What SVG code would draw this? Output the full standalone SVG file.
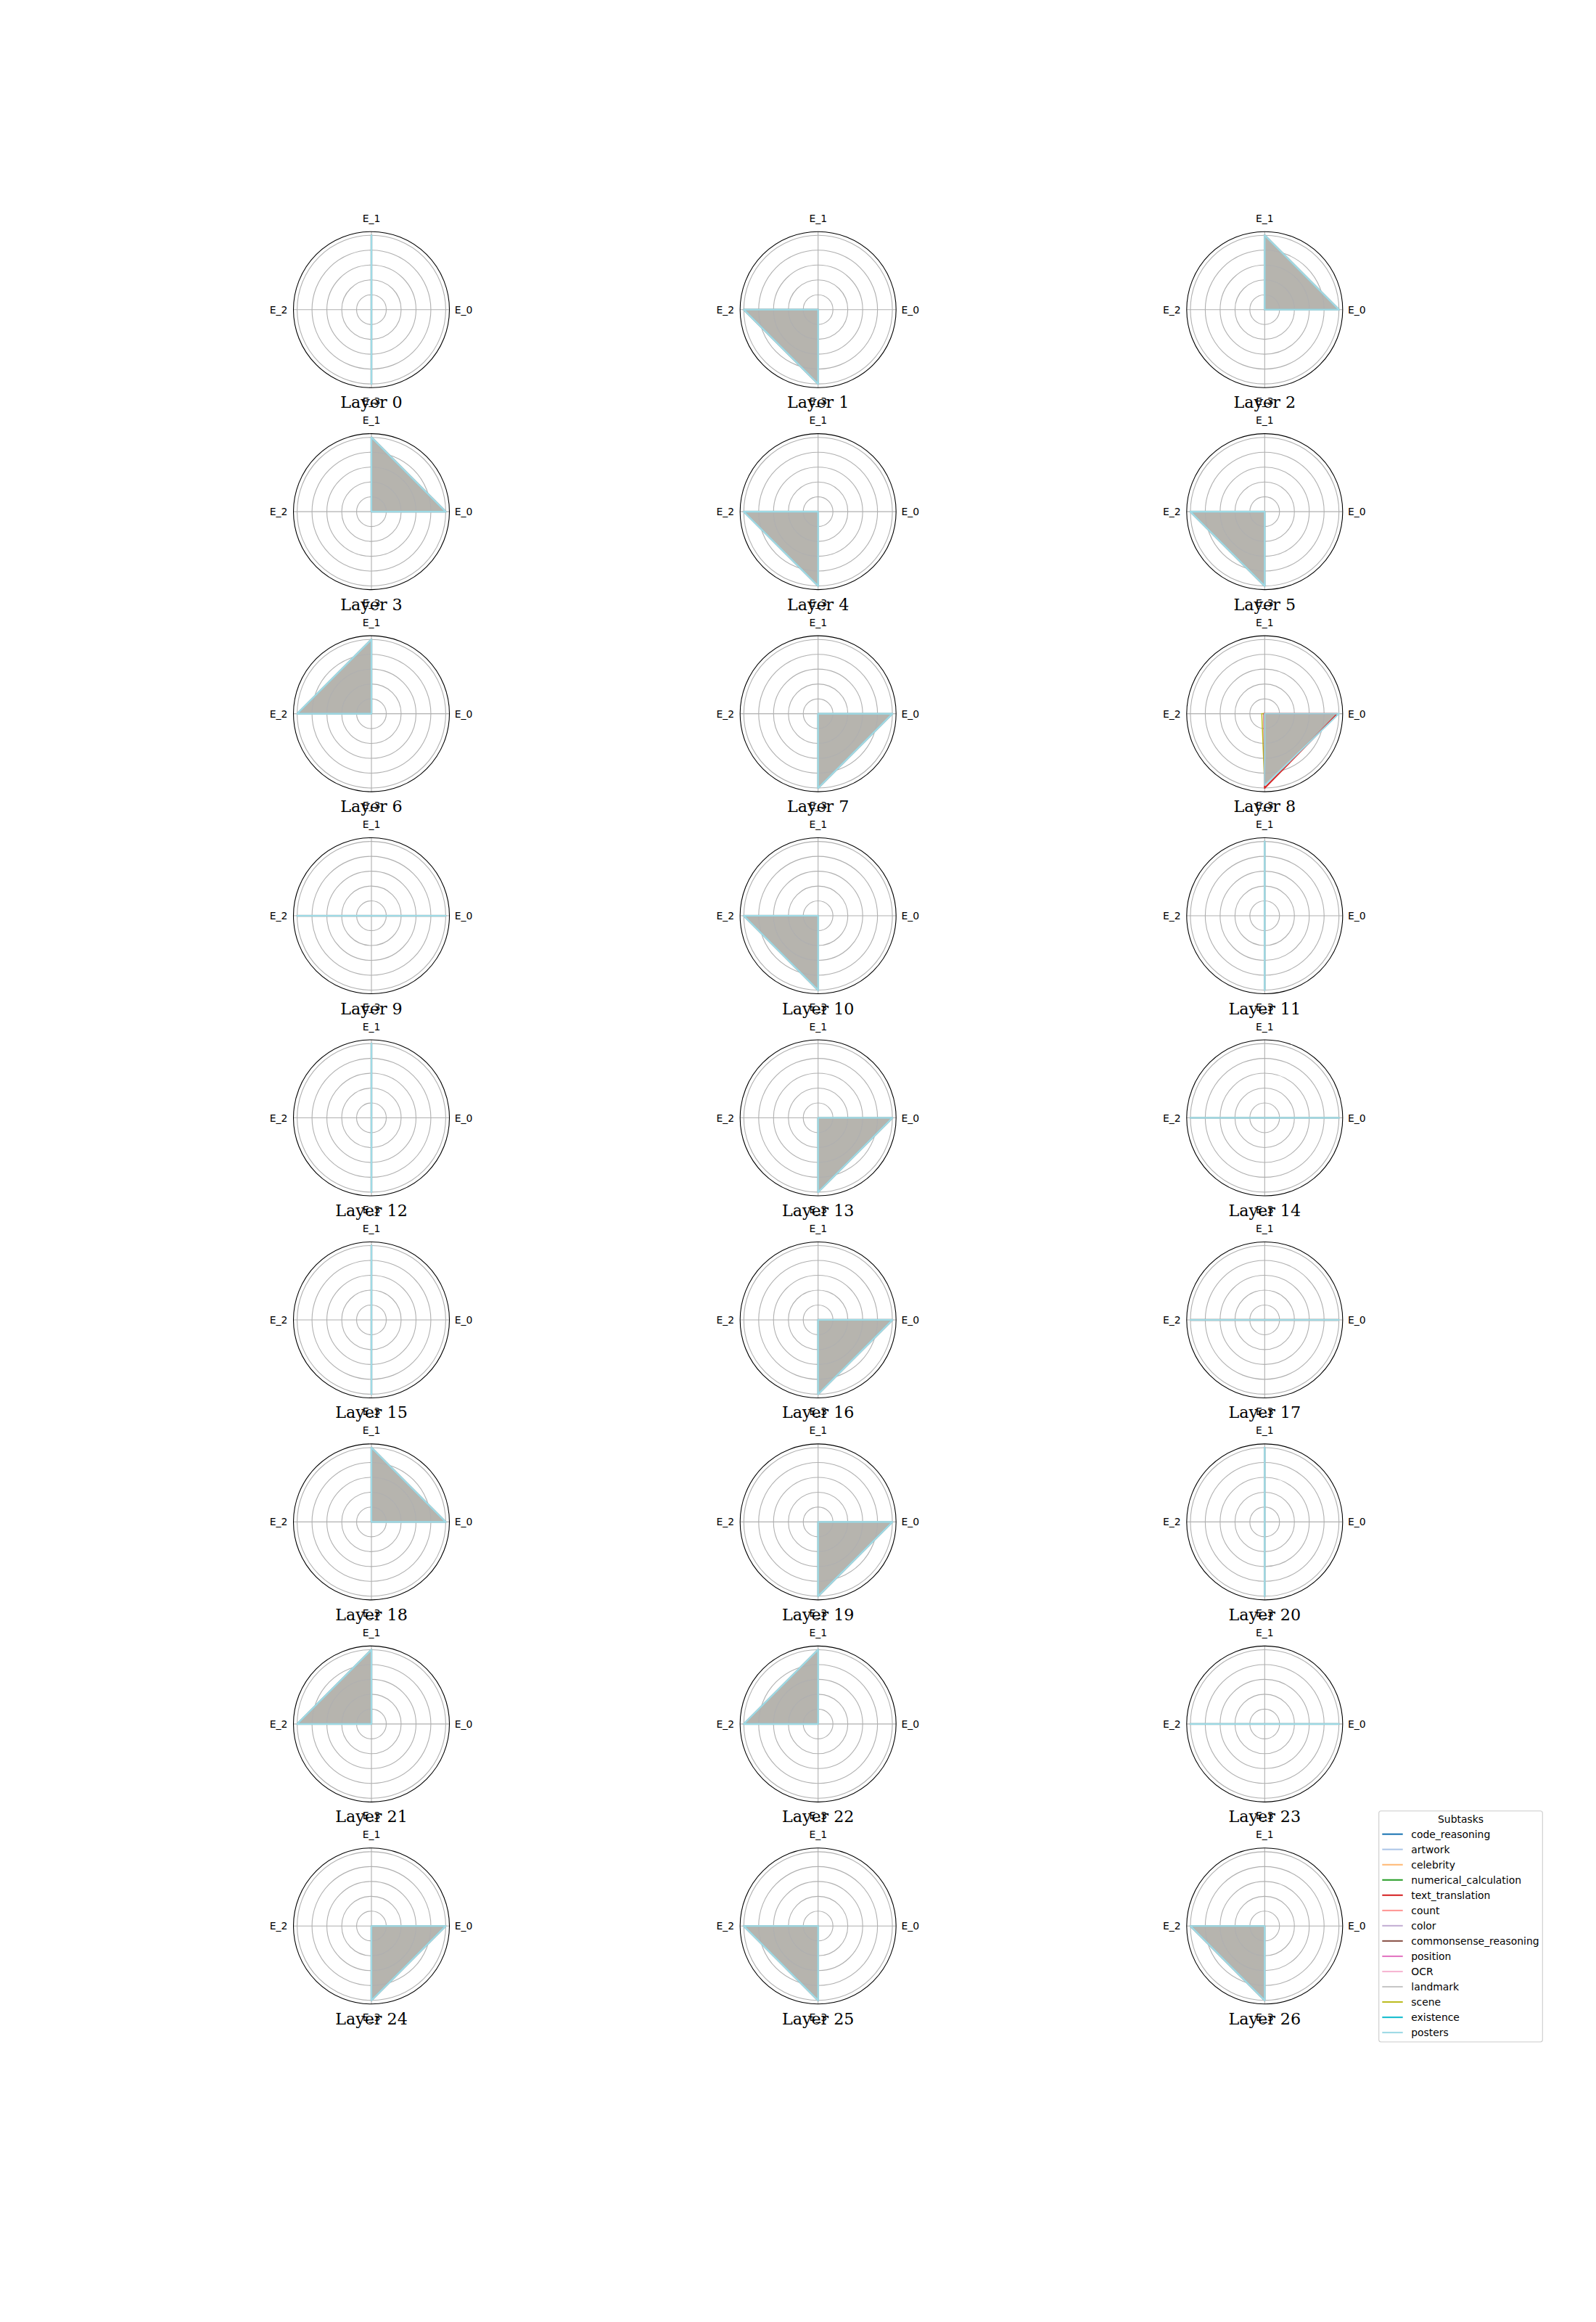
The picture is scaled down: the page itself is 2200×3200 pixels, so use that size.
<svg xmlns="http://www.w3.org/2000/svg" xmlns:xlink="http://www.w3.org/1999/xlink" width="2200" height="3200" viewBox="0 0 2200 3200">
<style>
.fill{fill:#b6b4ae;stroke:none}
.base{fill:none;stroke:#a3b6b9;stroke-width:2.7;stroke-linejoin:round}
.ln{fill:none;stroke:#9edae5;stroke-width:2.1;stroke-linejoin:round}
.grid{fill:none;stroke:#b0b0b0;stroke-width:1.1}
.spine{fill:none;stroke:#000;stroke-width:1.1}
.tk{font-family:"DejaVu Sans",sans-serif;font-size:13.9px;fill:#000;text-anchor:middle}
.ttl{font-family:"DejaVu Serif",serif;font-size:22.2px;fill:#000;text-anchor:middle}
.lg{font-family:"DejaVu Sans",sans-serif;font-size:13.9px;fill:#000}
.lgl{stroke-width:2.1;fill:none}
</style>
<defs>
<g id="grid">
<circle class="grid" r="20.48"/><circle class="grid" r="40.96"/><circle class="grid" r="61.44"/><circle class="grid" r="81.92"/><circle class="grid" r="102.4"/>
<path class="grid" d="M-107.5,0H107.5M0,-107.5V107.5"/>
</g>
<circle id="spine" class="spine" r="107.5"/>
</defs>
<rect width="2200" height="3200" fill="#fff"/>

<g id="layer-0" transform="translate(512,426.7)">
<use xlink:href="#grid"/><polygon class="base" points="0,0 0,-102.4 0,0 0,102.4"/><polygon class="ln" points="0,0 0,-102.4 0,0 0,102.4"/><use xlink:href="#spine"/>
<text class="tk" x="127" y="5">E_0</text><text class="tk" x="0" y="-121">E_1</text><text class="tk" x="-128" y="5">E_2</text><text class="tk" x="0" y="131">E_3</text><text class="ttl" x="0" y="135.5">Layer 0</text>
</g>
<g id="layer-1" transform="translate(1127.7,426.7)">
<polygon class="fill" points="0,0 0,0 -102.4,0 0,102.4"/><use xlink:href="#grid"/><polygon class="base" points="0,0 0,0 -102.4,0 0,102.4"/><polygon class="ln" points="0,0 0,0 -102.4,0 0,102.4"/><use xlink:href="#spine"/>
<text class="tk" x="127" y="5">E_0</text><text class="tk" x="0" y="-121">E_1</text><text class="tk" x="-128" y="5">E_2</text><text class="tk" x="0" y="131">E_3</text><text class="ttl" x="0" y="135.5">Layer 1</text>
</g>
<g id="layer-2" transform="translate(1743.3,426.7)">
<polygon class="fill" points="102.4,0 0,-102.4 0,0 0,0"/><use xlink:href="#grid"/><polygon class="base" points="102.4,0 0,-102.4 0,0 0,0"/><polygon class="ln" points="102.4,0 0,-102.4 0,0 0,0"/><use xlink:href="#spine"/>
<text class="tk" x="127" y="5">E_0</text><text class="tk" x="0" y="-121">E_1</text><text class="tk" x="-128" y="5">E_2</text><text class="tk" x="0" y="131">E_3</text><text class="ttl" x="0" y="135.5">Layer 2</text>
</g>

<g id="layer-3" transform="translate(512,705.15)">
<polygon class="fill" points="102.4,0 0,-102.4 0,0 0,0"/><use xlink:href="#grid"/><polygon class="base" points="102.4,0 0,-102.4 0,0 0,0"/><polygon class="ln" points="102.4,0 0,-102.4 0,0 0,0"/><use xlink:href="#spine"/>
<text class="tk" x="127" y="5">E_0</text><text class="tk" x="0" y="-121">E_1</text><text class="tk" x="-128" y="5">E_2</text><text class="tk" x="0" y="131">E_3</text><text class="ttl" x="0" y="135.5">Layer 3</text>
</g>
<g id="layer-4" transform="translate(1127.7,705.15)">
<polygon class="fill" points="0,0 0,0 -102.4,0 0,102.4"/><use xlink:href="#grid"/><polygon class="base" points="0,0 0,0 -102.4,0 0,102.4"/><polygon class="ln" points="0,0 0,0 -102.4,0 0,102.4"/><use xlink:href="#spine"/>
<text class="tk" x="127" y="5">E_0</text><text class="tk" x="0" y="-121">E_1</text><text class="tk" x="-128" y="5">E_2</text><text class="tk" x="0" y="131">E_3</text><text class="ttl" x="0" y="135.5">Layer 4</text>
</g>
<g id="layer-5" transform="translate(1743.3,705.15)">
<polygon class="fill" points="0,0 0,0 -102.4,0 0,102.4"/><use xlink:href="#grid"/><polygon class="base" points="0,0 0,0 -102.4,0 0,102.4"/><polygon class="ln" points="0,0 0,0 -102.4,0 0,102.4"/><use xlink:href="#spine"/>
<text class="tk" x="127" y="5">E_0</text><text class="tk" x="0" y="-121">E_1</text><text class="tk" x="-128" y="5">E_2</text><text class="tk" x="0" y="131">E_3</text><text class="ttl" x="0" y="135.5">Layer 5</text>
</g>

<g id="layer-6" transform="translate(512,983.6)">
<polygon class="fill" points="0,0 0,-102.4 -102.4,0 0,0"/><use xlink:href="#grid"/><polygon class="base" points="0,0 0,-102.4 -102.4,0 0,0"/><polygon class="ln" points="0,0 0,-102.4 -102.4,0 0,0"/><use xlink:href="#spine"/>
<text class="tk" x="127" y="5">E_0</text><text class="tk" x="0" y="-121">E_1</text><text class="tk" x="-128" y="5">E_2</text><text class="tk" x="0" y="131">E_3</text><text class="ttl" x="0" y="135.5">Layer 6</text>
</g>
<g id="layer-7" transform="translate(1127.7,983.6)">
<polygon class="fill" points="102.4,0 0,0 0,0 0,102.4"/><use xlink:href="#grid"/><polygon class="base" points="102.4,0 0,0 0,0 0,102.4"/><polygon class="ln" points="102.4,0 0,0 0,0 0,102.4"/><use xlink:href="#spine"/>
<text class="tk" x="127" y="5">E_0</text><text class="tk" x="0" y="-121">E_1</text><text class="tk" x="-128" y="5">E_2</text><text class="tk" x="0" y="131">E_3</text><text class="ttl" x="0" y="135.5">Layer 7</text>
</g>
<g id="layer-8" transform="translate(1743.3,983.6)">
<polygon class="fill" points="102.4,0 0,0 0,0 0,99"/><use xlink:href="#grid"/>
<polygon fill="none" stroke="#bcbd22" stroke-width="1.5" points="0,0 0,0 -4,0 0,99"/>
<polygon fill="none" stroke="#d62728" stroke-width="2.1" stroke-linejoin="round" points="100.4,0 0,0 -0.8,0 0,102.4"/>
<polygon class="ln" points="102.4,0 0,0 0,0 0,98.7"/><use xlink:href="#spine"/>
<text class="tk" x="127" y="5">E_0</text><text class="tk" x="0" y="-121">E_1</text><text class="tk" x="-128" y="5">E_2</text><text class="tk" x="0" y="131">E_3</text><text class="ttl" x="0" y="135.5">Layer 8</text>
</g>

<g id="layer-9" transform="translate(512,1262.05)">
<use xlink:href="#grid"/><polygon class="base" points="102.4,0 0,0 -102.4,0 0,0"/><polygon class="ln" points="102.4,0 0,0 -102.4,0 0,0"/><use xlink:href="#spine"/>
<text class="tk" x="127" y="5">E_0</text><text class="tk" x="0" y="-121">E_1</text><text class="tk" x="-128" y="5">E_2</text><text class="tk" x="0" y="131">E_3</text><text class="ttl" x="0" y="135.5">Layer 9</text>
</g>
<g id="layer-10" transform="translate(1127.7,1262.05)">
<polygon class="fill" points="0,0 0,0 -102.4,0 0,102.4"/><use xlink:href="#grid"/><polygon class="base" points="0,0 0,0 -102.4,0 0,102.4"/><polygon class="ln" points="0,0 0,0 -102.4,0 0,102.4"/><use xlink:href="#spine"/>
<text class="tk" x="127" y="5">E_0</text><text class="tk" x="0" y="-121">E_1</text><text class="tk" x="-128" y="5">E_2</text><text class="tk" x="0" y="131">E_3</text><text class="ttl" x="0" y="135.5">Layer 10</text>
</g>
<g id="layer-11" transform="translate(1743.3,1262.05)">
<use xlink:href="#grid"/><polygon class="base" points="0,0 0,-102.4 0,0 0,102.4"/><polygon class="ln" points="0,0 0,-102.4 0,0 0,102.4"/><use xlink:href="#spine"/>
<text class="tk" x="127" y="5">E_0</text><text class="tk" x="0" y="-121">E_1</text><text class="tk" x="-128" y="5">E_2</text><text class="tk" x="0" y="131">E_3</text><text class="ttl" x="0" y="135.5">Layer 11</text>
</g>

<g id="layer-12" transform="translate(512,1540.5)">
<use xlink:href="#grid"/><polygon class="base" points="0,0 0,-102.4 0,0 0,102.4"/><polygon class="ln" points="0,0 0,-102.4 0,0 0,102.4"/><use xlink:href="#spine"/>
<text class="tk" x="127" y="5">E_0</text><text class="tk" x="0" y="-121">E_1</text><text class="tk" x="-128" y="5">E_2</text><text class="tk" x="0" y="131">E_3</text><text class="ttl" x="0" y="135.5">Layer 12</text>
</g>
<g id="layer-13" transform="translate(1127.7,1540.5)">
<polygon class="fill" points="102.4,0 0,0 0,0 0,102.4"/><use xlink:href="#grid"/><polygon class="base" points="102.4,0 0,0 0,0 0,102.4"/><polygon class="ln" points="102.4,0 0,0 0,0 0,102.4"/><use xlink:href="#spine"/>
<text class="tk" x="127" y="5">E_0</text><text class="tk" x="0" y="-121">E_1</text><text class="tk" x="-128" y="5">E_2</text><text class="tk" x="0" y="131">E_3</text><text class="ttl" x="0" y="135.5">Layer 13</text>
</g>
<g id="layer-14" transform="translate(1743.3,1540.5)">
<use xlink:href="#grid"/><polygon class="base" points="102.4,0 0,0 -102.4,0 0,0"/><polygon class="ln" points="102.4,0 0,0 -102.4,0 0,0"/><use xlink:href="#spine"/>
<text class="tk" x="127" y="5">E_0</text><text class="tk" x="0" y="-121">E_1</text><text class="tk" x="-128" y="5">E_2</text><text class="tk" x="0" y="131">E_3</text><text class="ttl" x="0" y="135.5">Layer 14</text>
</g>

<g id="layer-15" transform="translate(512,1818.95)">
<use xlink:href="#grid"/><polygon class="base" points="0,0 0,-102.4 0,0 0,102.4"/><polygon class="ln" points="0,0 0,-102.4 0,0 0,102.4"/><use xlink:href="#spine"/>
<text class="tk" x="127" y="5">E_0</text><text class="tk" x="0" y="-121">E_1</text><text class="tk" x="-128" y="5">E_2</text><text class="tk" x="0" y="131">E_3</text><text class="ttl" x="0" y="135.5">Layer 15</text>
</g>
<g id="layer-16" transform="translate(1127.7,1818.95)">
<polygon class="fill" points="102.4,0 0,0 0,0 0,102.4"/><use xlink:href="#grid"/><polygon class="base" points="102.4,0 0,0 0,0 0,102.4"/><polygon class="ln" points="102.4,0 0,0 0,0 0,102.4"/><use xlink:href="#spine"/>
<text class="tk" x="127" y="5">E_0</text><text class="tk" x="0" y="-121">E_1</text><text class="tk" x="-128" y="5">E_2</text><text class="tk" x="0" y="131">E_3</text><text class="ttl" x="0" y="135.5">Layer 16</text>
</g>
<g id="layer-17" transform="translate(1743.3,1818.95)">
<use xlink:href="#grid"/><polygon fill="none" stroke="#a9a9a9" stroke-width="3" points="102.4,0 0,0 -102.4,0 0,0"/><polygon class="ln" points="102.4,0 0,0 -102.4,0 0,0"/><use xlink:href="#spine"/>
<text class="tk" x="127" y="5">E_0</text><text class="tk" x="0" y="-121">E_1</text><text class="tk" x="-128" y="5">E_2</text><text class="tk" x="0" y="131">E_3</text><text class="ttl" x="0" y="135.5">Layer 17</text>
</g>

<g id="layer-18" transform="translate(512,2097.4)">
<polygon class="fill" points="102.4,0 0,-102.4 0,0 0,0"/><use xlink:href="#grid"/><polygon class="base" points="102.4,0 0,-102.4 0,0 0,0"/><polygon class="ln" points="102.4,0 0,-102.4 0,0 0,0"/><use xlink:href="#spine"/>
<text class="tk" x="127" y="5">E_0</text><text class="tk" x="0" y="-121">E_1</text><text class="tk" x="-128" y="5">E_2</text><text class="tk" x="0" y="131">E_3</text><text class="ttl" x="0" y="135.5">Layer 18</text>
</g>
<g id="layer-19" transform="translate(1127.7,2097.4)">
<polygon class="fill" points="102.4,0 0,0 0,0 0,102.4"/><use xlink:href="#grid"/><polygon class="base" points="102.4,0 0,0 0,0 0,102.4"/><polygon class="ln" points="102.4,0 0,0 0,0 0,102.4"/><use xlink:href="#spine"/>
<text class="tk" x="127" y="5">E_0</text><text class="tk" x="0" y="-121">E_1</text><text class="tk" x="-128" y="5">E_2</text><text class="tk" x="0" y="131">E_3</text><text class="ttl" x="0" y="135.5">Layer 19</text>
</g>
<g id="layer-20" transform="translate(1743.3,2097.4)">
<use xlink:href="#grid"/><polygon class="base" points="0,0 0,-102.4 0,0 0,102.4"/><polygon class="ln" points="0,0 0,-102.4 0,0 0,102.4"/><use xlink:href="#spine"/>
<text class="tk" x="127" y="5">E_0</text><text class="tk" x="0" y="-121">E_1</text><text class="tk" x="-128" y="5">E_2</text><text class="tk" x="0" y="131">E_3</text><text class="ttl" x="0" y="135.5">Layer 20</text>
</g>

<g id="layer-21" transform="translate(512,2375.85)">
<polygon class="fill" points="0,0 0,-102.4 -102.4,0 0,0"/><use xlink:href="#grid"/><polygon class="base" points="0,0 0,-102.4 -102.4,0 0,0"/><polygon class="ln" points="0,0 0,-102.4 -102.4,0 0,0"/><use xlink:href="#spine"/>
<text class="tk" x="127" y="5">E_0</text><text class="tk" x="0" y="-121">E_1</text><text class="tk" x="-128" y="5">E_2</text><text class="tk" x="0" y="131">E_3</text><text class="ttl" x="0" y="135.5">Layer 21</text>
</g>
<g id="layer-22" transform="translate(1127.7,2375.85)">
<polygon class="fill" points="0,0 0,-102.4 -102.4,0 0,0"/><use xlink:href="#grid"/><polygon class="base" points="0,0 0,-102.4 -102.4,0 0,0"/><polygon class="ln" points="0,0 0,-102.4 -102.4,0 0,0"/><use xlink:href="#spine"/>
<text class="tk" x="127" y="5">E_0</text><text class="tk" x="0" y="-121">E_1</text><text class="tk" x="-128" y="5">E_2</text><text class="tk" x="0" y="131">E_3</text><text class="ttl" x="0" y="135.5">Layer 22</text>
</g>
<g id="layer-23" transform="translate(1743.3,2375.85)">
<use xlink:href="#grid"/><polygon class="base" points="102.4,0 0,0 -102.4,0 0,0"/><polygon class="ln" points="102.4,0 0,0 -102.4,0 0,0"/><use xlink:href="#spine"/>
<text class="tk" x="127" y="5">E_0</text><text class="tk" x="0" y="-121">E_1</text><text class="tk" x="-128" y="5">E_2</text><text class="tk" x="0" y="131">E_3</text><text class="ttl" x="0" y="135.5">Layer 23</text>
</g>

<g id="layer-24" transform="translate(512,2654.3)">
<polygon class="fill" points="102.4,0 0,0 0,0 0,102.4"/><use xlink:href="#grid"/><polygon class="base" points="102.4,0 0,0 0,0 0,102.4"/><polygon class="ln" points="102.4,0 0,0 0,0 0,102.4"/><use xlink:href="#spine"/>
<text class="tk" x="127" y="5">E_0</text><text class="tk" x="0" y="-121">E_1</text><text class="tk" x="-128" y="5">E_2</text><text class="tk" x="0" y="131">E_3</text><text class="ttl" x="0" y="135.5">Layer 24</text>
</g>
<g id="layer-25" transform="translate(1127.7,2654.3)">
<polygon class="fill" points="0,0 0,0 -102.4,0 0,102.4"/><use xlink:href="#grid"/><polygon class="base" points="0,0 0,0 -102.4,0 0,102.4"/><polygon class="ln" points="0,0 0,0 -102.4,0 0,102.4"/><use xlink:href="#spine"/>
<text class="tk" x="127" y="5">E_0</text><text class="tk" x="0" y="-121">E_1</text><text class="tk" x="-128" y="5">E_2</text><text class="tk" x="0" y="131">E_3</text><text class="ttl" x="0" y="135.5">Layer 25</text>
</g>
<g id="layer-26" transform="translate(1743.3,2654.3)">
<polygon class="fill" points="0,0 0,0 -102.4,0 0,102.4"/><use xlink:href="#grid"/><polygon class="base" points="0,0 0,0 -102.4,0 0,102.4"/><polygon class="ln" points="0,0 0,0 -102.4,0 0,102.4"/><use xlink:href="#spine"/>
<text class="tk" x="127" y="5">E_0</text><text class="tk" x="0" y="-121">E_1</text><text class="tk" x="-128" y="5">E_2</text><text class="tk" x="0" y="131">E_3</text><text class="ttl" x="0" y="135.5">Layer 26</text>
</g>

<g id="legend">
<rect x="1900.7" y="2495.7" width="225.6" height="318.3" rx="3" fill="#fff" fill-opacity="0.8" stroke="#cccccc" stroke-width="1.1"/>
<text class="lg" x="2013.5" y="2512.3" text-anchor="middle">Subtasks</text>
<line class="lgl" x1="1905.3" x2="1933.7" y1="2527.7" y2="2527.7" stroke="#1f77b4"/><text class="lg" x="1945.3" y="2532.7">code_reasoning</text>
<line class="lgl" x1="1905.3" x2="1933.7" y1="2548.7" y2="2548.7" stroke="#aec7e8"/><text class="lg" x="1945.3" y="2553.7">artwork</text>
<line class="lgl" x1="1905.3" x2="1933.7" y1="2569.8" y2="2569.8" stroke="#ffbb78"/><text class="lg" x="1945.3" y="2574.8">celebrity</text>
<line class="lgl" x1="1905.3" x2="1933.7" y1="2590.8" y2="2590.8" stroke="#2ca02c"/><text class="lg" x="1945.3" y="2595.8">numerical_calculation</text>
<line class="lgl" x1="1905.3" x2="1933.7" y1="2611.8" y2="2611.8" stroke="#d62728"/><text class="lg" x="1945.3" y="2616.8">text_translation</text>
<line class="lgl" x1="1905.3" x2="1933.7" y1="2632.9" y2="2632.9" stroke="#ff9896"/><text class="lg" x="1945.3" y="2637.9">count</text>
<line class="lgl" x1="1905.3" x2="1933.7" y1="2653.9" y2="2653.9" stroke="#c5b0d5"/><text class="lg" x="1945.3" y="2658.9">color</text>
<line class="lgl" x1="1905.3" x2="1933.7" y1="2674.9" y2="2674.9" stroke="#8c564b"/><text class="lg" x="1945.3" y="2679.9">commonsense_reasoning</text>
<line class="lgl" x1="1905.3" x2="1933.7" y1="2696.0" y2="2696.0" stroke="#e377c2"/><text class="lg" x="1945.3" y="2701.0">position</text>
<line class="lgl" x1="1905.3" x2="1933.7" y1="2717.0" y2="2717.0" stroke="#f7b6d2"/><text class="lg" x="1945.3" y="2722.0">OCR</text>
<line class="lgl" x1="1905.3" x2="1933.7" y1="2738.0" y2="2738.0" stroke="#c7c7c7"/><text class="lg" x="1945.3" y="2743.0">landmark</text>
<line class="lgl" x1="1905.3" x2="1933.7" y1="2759.0" y2="2759.0" stroke="#bcbd22"/><text class="lg" x="1945.3" y="2764.0">scene</text>
<line class="lgl" x1="1905.3" x2="1933.7" y1="2780.1" y2="2780.1" stroke="#17becf"/><text class="lg" x="1945.3" y="2785.1">existence</text>
<line class="lgl" x1="1905.3" x2="1933.7" y1="2801.1" y2="2801.1" stroke="#9edae5"/><text class="lg" x="1945.3" y="2806.1">posters</text>
</g>
</svg>
